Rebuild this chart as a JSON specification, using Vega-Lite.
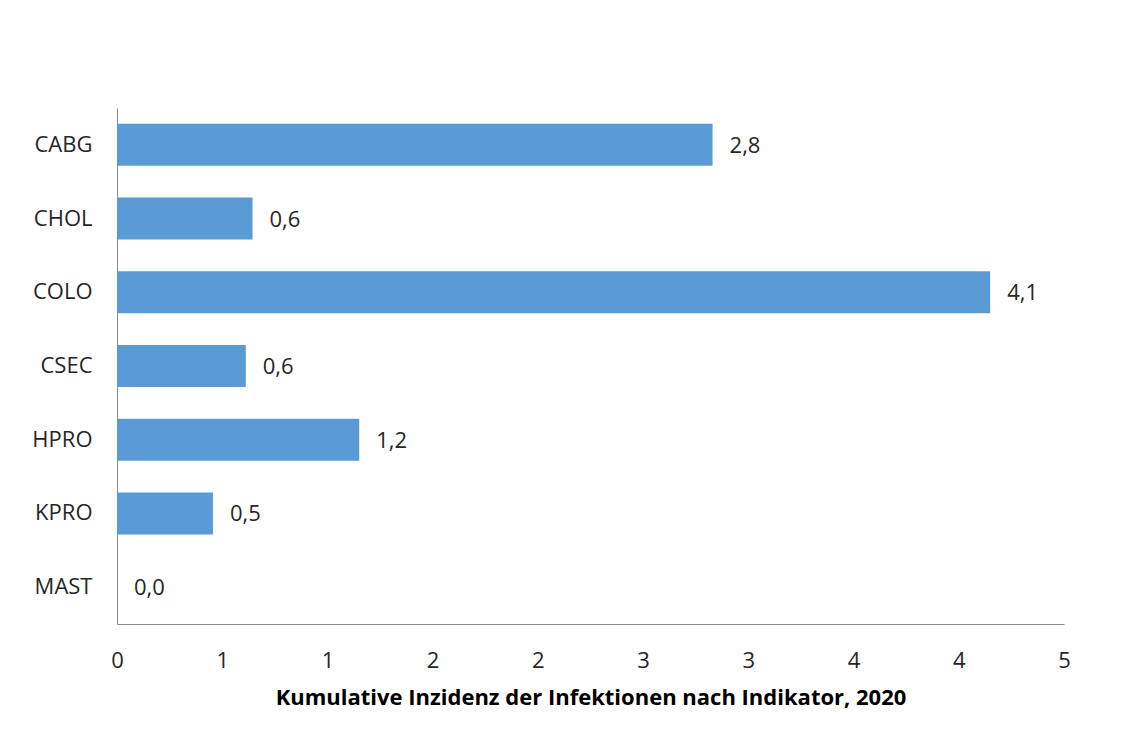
{
  "$schema": "https://vega.github.io/schema/vega-lite/v6.json",
  "width": 947,
  "height": 516,
  "autosize": {"type": "none"},
  "padding": {"left": 117, "top": 108, "right": 69, "bottom": 109},
  "background": "white",
  "data": {
    "values": [
      {"indikator": "CABG", "wert": 2.83},
      {"indikator": "CHOL", "wert": 0.644},
      {"indikator": "COLO", "wert": 4.149},
      {"indikator": "CSEC", "wert": 0.612},
      {"indikator": "HPRO", "wert": 1.151},
      {"indikator": "KPRO", "wert": 0.456},
      {"indikator": "MAST", "wert": 0.0}
    ]
  },
  "encoding": {
    "y": {
      "field": "indikator",
      "type": "nominal",
      "sort": null,
      "scale": {"paddingInner": 0.43, "paddingOuter": 0.215},
      "axis": {
        "title": null,
        "ticks": false,
        "labelPadding": 25,
        "labelFont": "Open Sans",
        "labelFontSize": 22,
        "labelColor": "#262626",
        "domainColor": "#8c8c8c",
        "domainWidth": 1
      }
    },
    "x": {
      "field": "wert",
      "type": "quantitative",
      "scale": {"domain": [0, 4.5], "nice": false, "zero": true},
      "axis": {
        "title": "Kumulative Inzidenz der Infektionen nach Indikator, 2020",
        "values": [0, 0.5, 1, 1.5, 2, 2.5, 3, 3.5, 4, 4.5],
        "labelExpr": "'' + round(datum.value)",
        "ticks": false,
        "grid": false,
        "labelPadding": 26,
        "labelFont": "Open Sans",
        "labelFontSize": 22,
        "labelColor": "#262626",
        "labelFlush": false,
        "labelOverlap": false,
        "domainColor": "#8c8c8c",
        "domainWidth": 1,
        "titleFont": "Open Sans",
        "titleFontSize": 22,
        "titleFontWeight": "bold",
        "titleColor": "#000000",
        "titlePadding": 16
      }
    }
  },
  "layer": [
    {
      "mark": {"type": "bar", "color": "#5B9BD5"}
    },
    {
      "mark": {
        "type": "text",
        "align": "left",
        "baseline": "middle",
        "dx": 17,
        "dy": 1,
        "font": "Open Sans",
        "fontSize": 22,
        "color": "#262626"
      },
      "encoding": {
        "text": {"field": "wert", "type": "quantitative", "format": ".1f"}
      }
    }
  ],
  "config": {
    "view": {"stroke": null},
    "locale": {
      "number": {
        "decimal": ",",
        "thousands": ".",
        "grouping": [3],
        "currency": ["", " €"]
      }
    }
  }
}
